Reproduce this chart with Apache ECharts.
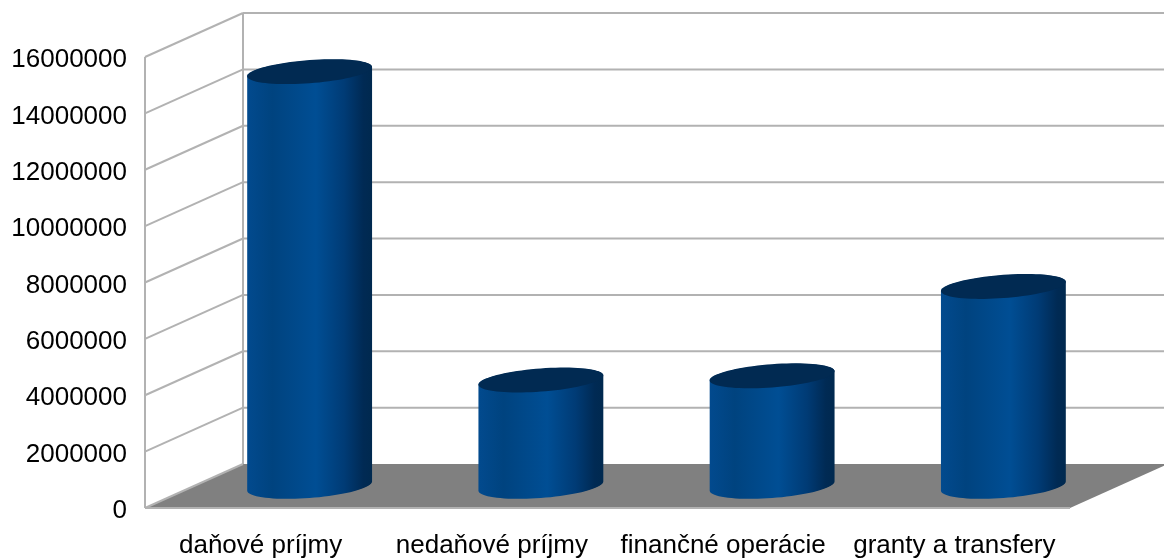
<!DOCTYPE html>
<html>
<head>
<meta charset="utf-8">
<style>html,body{margin:0;padding:0;background:#fff}#c{width:1164px;height:558px}</style>
<script src="https://cdn.jsdelivr.net/npm/echarts@6/dist/echarts.min.js"></script>
</head>
<body>
<div id="c"></div>
<script>
const categories = ['daňové príjmy', 'nedaňové príjmy', 'finančné operácie', 'granty a transfery'];
const values = [14700000, 3760000, 3910000, 7080000];
const ticks = [0, 2000000, 4000000, 6000000, 8000000, 10000000, 12000000, 14000000, 16000000];

const DEPTH_X = 98, DEPTH_Y = -44;
const GRID_COLOR = '#b2b2b2';

const chart = echarts.init(document.getElementById('c'), null, {renderer: 'canvas'});

function line(x1, y1, x2, y2, w) {
  return {type: 'line', shape: {x1, y1, x2, y2}, style: {stroke: GRID_COLOR, lineWidth: w || 2, fill: null}};
}

function renderWalls(params, api) {
  const v = api.value(0);
  const p0 = api.coord([0, v]);
  const yPx = p0[1];
  const left = params.coordSys.x, right = left + params.coordSys.width;
  const children = [];
  if (v === 0) {
    children.push({type: 'polygon', shape: {points: [
      [left, yPx], [left + DEPTH_X, yPx + DEPTH_Y], [right + DEPTH_X, yPx + DEPTH_Y], [right, yPx]
    ]}, style: {fill: '#808080'}});
    children.push(line(left, yPx, right, yPx));
    children.push(line(left, params.coordSys.y, left, yPx, 2));
    children.push(line(left + DEPTH_X, params.coordSys.y + DEPTH_Y, left + DEPTH_X, yPx + DEPTH_Y, 2));
  }
  children.push(line(left, yPx, left + DEPTH_X, yPx + DEPTH_Y, 2));
  if (v !== 0) children.push(line(left + DEPTH_X, yPx + DEPTH_Y, right + DEPTH_X, yPx + DEPTH_Y));
  return {type: 'group', children};
}

function ellipsePts(cx, cy, a, b, k, from, to, n) {
  const pts = [];
  for (let i = 0; i <= n; i++) {
    const t = from + (to - from) * i / n;
    pts.push([cx + a * Math.cos(t), cy + b * Math.sin(t) + k * Math.cos(t)]);
  }
  return pts;
}

function renderCylinder(params, api) {
  const base = api.coord([api.value(0), 0]);
  const top = api.coord([api.value(0), api.value(1)]);
  const a = api.size([1, 0])[0] * 0.27;
  const cx = base[0] + DEPTH_X / 2;
  const by = base[1] + DEPTH_Y / 2;
  const ty = top[1] + DEPTH_Y / 2;
  const b = 11, k = -4.6;
  const body = ellipsePts(cx, ty, a, b, k, Math.PI, 2 * Math.PI, 40)
    .concat(ellipsePts(cx, by, a, b + 1, k, 0, Math.PI, 40));
  return {type: 'group', children: [
    {type: 'polygon', shape: {points: body}, style: {
      fill: new echarts.graphic.LinearGradient(0, 0, 1, 0, [
        {offset: 0, color: '#024a8e'},
        {offset: 0.2, color: '#00437f'},
        {offset: 0.55, color: '#004e94'},
        {offset: 0.78, color: '#003b75'},
        {offset: 0.93, color: '#002a54'},
        {offset: 1, color: '#00294f'}
      ])
    }},
    {type: 'polygon', shape: {points: ellipsePts(cx, ty, a, b + 0.6, k, 0, 2 * Math.PI, 80)},
      style: {fill: '#012a52'}}
  ]};
}

chart.setOption({
  animation: false,
  backgroundColor: '#ffffff',
  grid: {left: 145, right: 94, top: 57, bottom: 50, containLabel: false, outerBoundsMode: 'none'},
  xAxis: {
    type: 'category', data: categories,
    axisLine: {show: false}, axisTick: {show: false}, splitLine: {show: false},
    axisLabel: {interval: 0, color: '#000', fontFamily: 'Liberation Sans', fontSize: 26, margin: 25}
  },
  yAxis: {
    type: 'value', min: 0, max: 16000000, interval: 2000000,
    axisLine: {show: false}, axisTick: {show: false}, splitLine: {show: false},
    axisLabel: {margin: 18, formatter: (v) => '{t|' + v + '}',
      rich: {t: {color: '#000', fontFamily: 'Liberation Sans', fontSize: 26, padding: [6, 0, 0, 0]}}}
  },
  series: [
    {type: 'custom', renderItem: renderWalls, data: ticks.map(t => [t]),
     encode: {y: 0}, clip: false, silent: true, z: 1},
    {type: 'custom', renderItem: renderCylinder, data: values.map((v, i) => [i, v]),
     encode: {x: 0, y: 1}, clip: false, silent: true, z: 2}
  ]
});
</script>
</body>
</html>
